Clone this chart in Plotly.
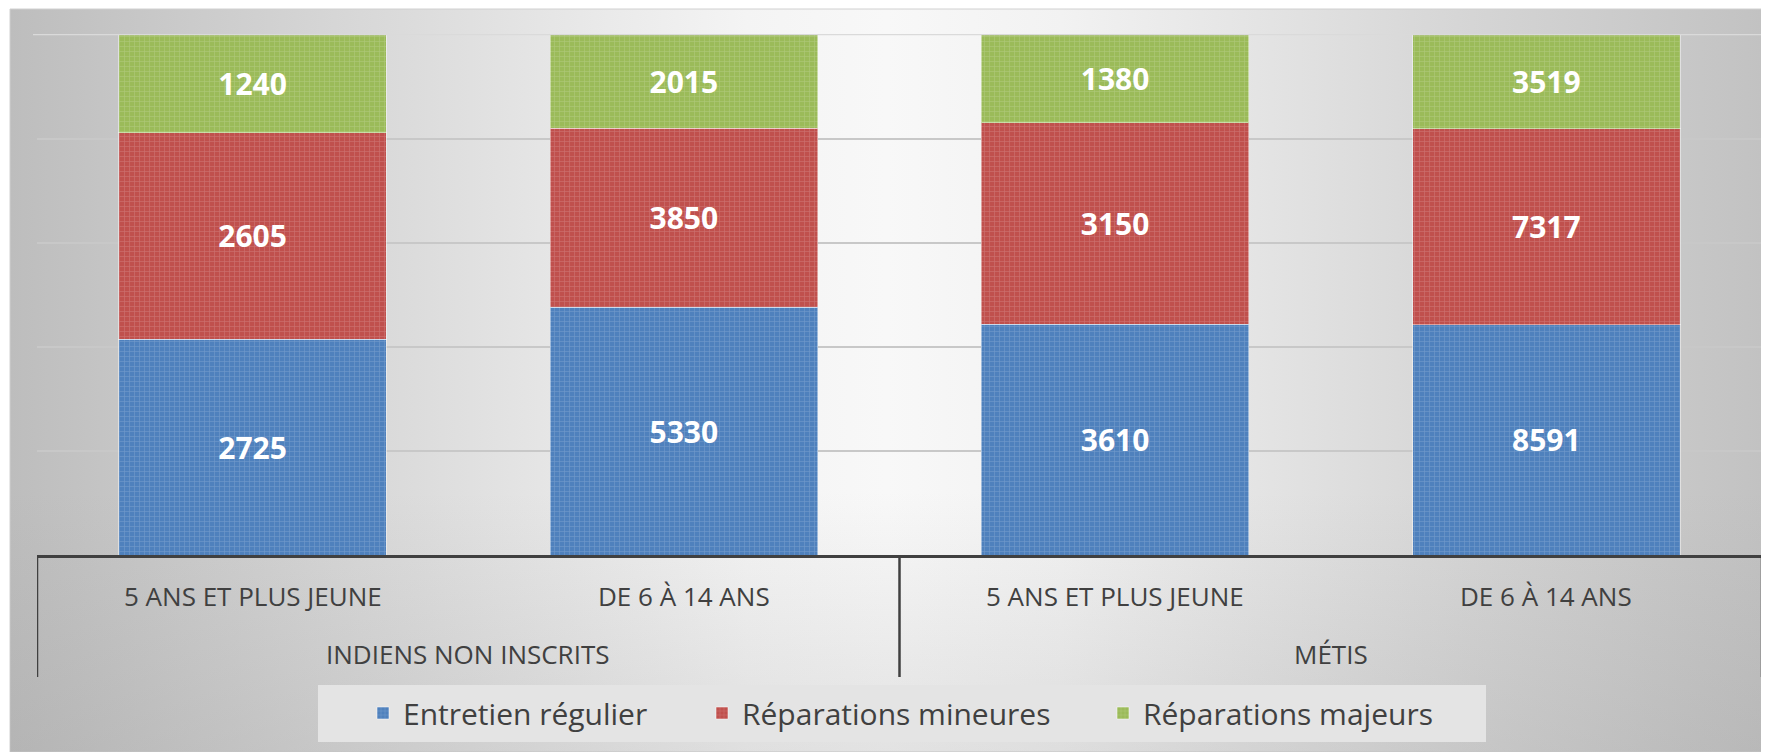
import plotly.graph_objects as go

# ---- data ----
groups = ["INDIENS NON INSCRITS", "MÉTIS"]
age_groups = ["5 ANS ET PLUS JEUNE", "DE 6 À 14 ANS", "5 ANS ET PLUS JEUNE", "DE 6 À 14 ANS"]
series_names = ["Entretien régulier", "Réparations mineures", "Réparations majeurs"]
entretien = [2725, 5330, 3610, 8591]
mineures = [2605, 3850, 3150, 7317]
majeurs = [1240, 2015, 1380, 3519]

colors = ["#4f81bd", "#c0504d", "#9bbb59"]

OFF = 8  # page body margin
PAGE_W, PAGE_H = 1769, 752
W, H = PAGE_W - OFF, PAGE_H - OFF


def px(x):
    return (x - OFF) / W


def py(y):
    return 1 - (y - OFF) / H


fig = go.Figure()

# background gradient (on full-paper helper axes x/y), coordinates in page pixels
bx = [10, 1762, 1762, 10, 10]
by = [9, 9, 752, 752, 9]
fig.add_trace(go.Scatter(
    x=bx, y=by,
    mode="lines", line=dict(width=1, color="#d0d0d0"),
    fill="toself",
    fillgradient=dict(type="horizontal", colorscale=[
        [0, "#bdbdbd"], [0.2, "#d8d8d8"], [0.42, "#f4f4f4"], [0.5, "#f8f8f8"],
        [0.6, "#f2f2f2"], [0.8, "#d9d9d9"], [1, "#c2c2c2"]]),
    hoverinfo="skip", showlegend=False, xaxis="x", yaxis="y"))
fig.add_trace(go.Scatter(
    x=bx, y=by,
    mode="none", fill="toself",
    fillgradient=dict(type="vertical", colorscale=[
        [0, "rgba(150,150,150,0.22)"], [0.35, "rgba(150,150,150,0.0)"], [1, "rgba(150,150,150,0.0)"]]),
    hoverinfo="skip", showlegend=False, xaxis="x", yaxis="y"))

xs = list(range(len(age_groups)))
legends = ["legend", "legend2", "legend3"]
for vals, name, col, lg in zip([entretien, mineures, majeurs], series_names, colors, legends):
    fig.add_trace(go.Bar(
        x=xs, y=vals, name=name, text=vals,
        texttemplate="%{text}", textposition="inside", insidetextanchor="middle",
        textangle=0, constraintext="none",
        textfont=dict(family="Open Sans", size=30, color="white", weight="bold"),
        marker=dict(color=col, line=dict(color="rgba(255,255,255,0.45)", width=1),
                    pattern=dict(shape="+", size=5, solidity=0.25, fgcolor="white", fgopacity=0.18)),
        width=0.62, xaxis="x2", yaxis="y2", legend=lg, hoverinfo="skip"))

shapes = []
# top (100 %) gridline
shapes.append(dict(type="line", xref="paper", yref="y2", x0=px(33), x1=px(1762), y0=100, y1=100,
                   line=dict(color="#dadada", width=1.5), layer="above"))
# legend background
shapes.append(dict(type="rect", xref="paper", yref="paper",
                   x0=px(318), x1=px(1486), y0=py(742), y1=py(685),
                   fillcolor="#e4e4e4", line=dict(width=0), layer="above"))
# category dividers
for xv in [-0.5, 1.5, 3.5]:
    shapes.append(dict(type="line", xref="x2", yref="paper", x0=xv, x1=xv,
                       y0=py(555), y1=py(677), line=dict(color="#404040", width=2.5), layer="above"))

annotations = []
for i, lab in enumerate(age_groups):
    annotations.append(dict(x=i, y=py(596), xref="x2", yref="paper", text=lab, showarrow=False,
                            xanchor="center", yanchor="middle",
                            font=dict(family="Open Sans", size=26, color="#404040")))
for gi, g in enumerate(groups):
    annotations.append(dict(x=gi * 2 + 0.5, y=py(654), xref="x2", yref="paper", text=g, showarrow=False,
                            xanchor="center", yanchor="middle",
                            font=dict(family="Open Sans", size=26, color="#404040")))

leg_common = dict(orientation="h", bgcolor="rgba(0,0,0,0)", borderwidth=0,
                  font=dict(family="Open Sans", size=30, color="#404040"),
                  yanchor="middle", y=py(713), xanchor="left", itemclick=False)

fig.update_layout(
    width=W, height=H,
    margin=dict(l=0, r=0, t=0, b=0),
    paper_bgcolor="white", plot_bgcolor="rgba(0,0,0,0)",
    barmode="stack", barnorm="percent", bargap=0.38,
    xaxis=dict(domain=[0, 1], range=[OFF, OFF + W], visible=False, fixedrange=True),
    yaxis=dict(domain=[0, 1], range=[OFF + H, OFF], visible=False, fixedrange=True),
    xaxis2=dict(domain=[px(37), px(1762)], range=[-0.5, 3.5], anchor="y2",
                showticklabels=False, showgrid=False, zeroline=False,
                showline=True, linecolor="#404040", linewidth=3, ticks=""),
    yaxis2=dict(domain=[py(555), py(34)], range=[0, 100.1], anchor="x2",
                showticklabels=False, showgrid=True, gridcolor="#c8c8c8", gridwidth=1.5,
                tickvals=[20, 40, 60, 80], zeroline=False, showline=False),
    shapes=shapes, annotations=annotations,
    legend=dict(leg_common, x=px(363)),
    legend2=dict(leg_common, x=px(702)),
    legend3=dict(leg_common, x=px(1103)),
    showlegend=True,
)

fig.write_html("out.html")
